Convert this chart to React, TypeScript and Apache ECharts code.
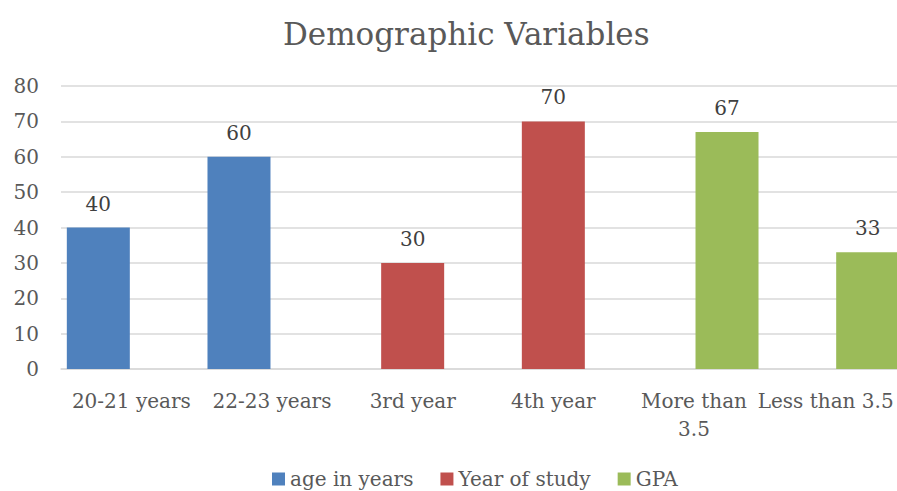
import React, { useEffect, useRef } from "react";
import * as echarts from "echarts";

const categories = ["20-21 years", "22-23 years", "3rd year", "4th year", "More than 3.5", "Less than 3.5"];
const ageInYears = [40, 60, null, null, null, null];
const yearOfStudy = [null, null, 30, 70, null, null];
const gpa = [null, null, null, null, 67, 33];
const seriesNames = ["age in years", "Year of study", "GPA"];
const colors = ["#4f81bd", "#c0504d", "#9bbb59"];

const FONT = "DejaVu Serif";

export default function App() {
  const ref = useRef<HTMLDivElement>(null);
  useEffect(() => {
    document.body.style.margin = "0";
    const chart = echarts.init(ref.current!, null, { renderer: "svg" });
    const mk = (name: string, data: (number | null)[], color: string) => ({
      name,
      type: "bar",
      data,
      barWidth: 63,
      barGap: "-47.6%",
      itemStyle: { color },
      label: {
        show: true,
        position: "top",
        distance: 14,
        color: "#404040",
        fontFamily: FONT,
        fontSize: 20,
      },
    });
    const catData = categories.map((c, i) =>
      i === categories.length - 1
        ? { value: c, textStyle: { padding: [0, 18, 0, 0] } }
        : c
    );
    chart.setOption({
      animation: false,
      title: {
        text: "Demographic Variables",
        left: 278,
        top: 13,
        textStyle: { color: "#595959", fontFamily: FONT, fontSize: 31, fontWeight: "normal" },
      },
      legend: {
        data: seriesNames,
        left: 267,
        top: 464,
        itemWidth: 13,
        itemHeight: 13,
        itemGap: 27,
        icon: "rect",
        textStyle: { color: "#595959", fontFamily: FONT, fontSize: 20 },
      },
      grid: { left: 61, right: -8, top: 86, bottom: 122, outerBoundsMode: "none", containLabel: false },
      xAxis: {
        type: "category",
        data: catData,
        axisLine: { lineStyle: { color: "#d9d9d9", width: 1.5 } },
        axisTick: { show: false },
        axisLabel: {
          color: "#595959",
          fontFamily: FONT,
          fontSize: 20,
          margin: 18,
          lineHeight: 28,
          interval: 0,
          hideOverlap: false,
          formatter: (v: string) => (v === "More than 3.5" ? "More than\n3.5" : v),
        },
      },
      yAxis: {
        type: "value",
        min: 0,
        max: 80,
        interval: 10,
        axisLine: { show: false },
        axisTick: { show: false },
        splitLine: { lineStyle: { color: "#d9d9d9", width: 1.5 } },
        axisLabel: { color: "#595959", fontFamily: FONT, fontSize: 20, margin: 22 },
      },
      series: [
        mk(seriesNames[0], ageInYears, colors[0]),
        mk(seriesNames[1], yearOfStudy, colors[1]),
        mk(seriesNames[2], gpa, colors[2]),
      ],
    });
    return () => chart.dispose();
  }, []);
  return <div ref={ref} style={{ width: 897, height: 491 }} />;
}
